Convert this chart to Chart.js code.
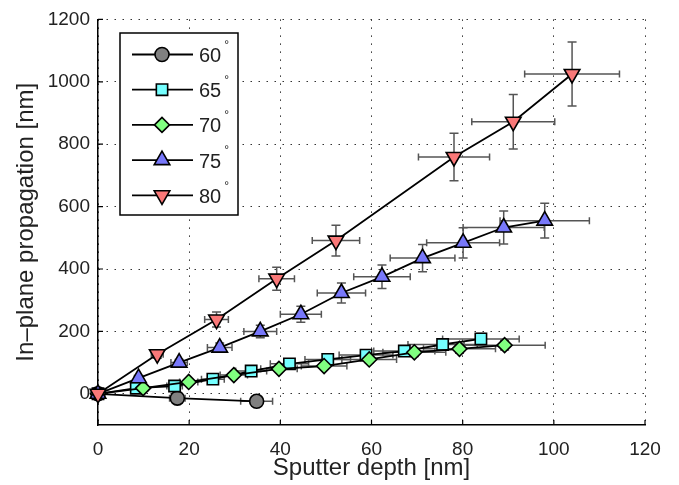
<!DOCTYPE html>
<html>
<head>
<meta charset="utf-8">
<script src="https://cdn.jsdelivr.net/npm/chart.js@4"></script>
<style>
  html, body { margin: 0; padding: 0; background: #fff; }
</style>
</head>
<body>
<canvas id="chartPropagation" width="679" height="485"></canvas>
<script>
// values (nm)
const xTicks = [0, 20, 40, 60, 80, 100, 120];
const yTicks = [0, 200, 400, 600, 800, 1000, 1200];
const labels = ["60", "65", "70", "75", "80"];

const depth60 = [0, 17.4, 34.8];
const prop60 = [0, -14, -24];
const depthErr60 = [0, 1.7, 3.5];
const propErr60 = [0, 1.4, 2.4];

const depth65 = [0, 8.4, 16.8, 25.2, 33.6, 42, 50.4, 58.8, 67.2, 75.6, 84];
const prop65 = [0, 18, 25, 47, 73, 96, 110, 124, 137, 158, 176];
const depthErr65 = [0, 0.8, 1.7, 2.5, 3.4, 4.2, 5.0, 5.9, 6.7, 7.6, 8.4];
const propErr65 = [0, 1.8, 2.5, 4.7, 7.3, 9.6, 11, 12.4, 13.7, 15.8, 17.6];

const depth70 = [0, 9.9, 19.9, 29.8, 39.7, 49.6, 59.5, 69.4, 79.3, 89.2];
const prop70 = [0, 18, 38, 60, 80, 89, 110, 133, 144, 156];
const depthErr70 = [0, 1, 2, 3, 4, 5, 6, 6.9, 7.9, 8.9];
const propErr70 = [0, 1.8, 3.8, 6, 8, 8.9, 11, 13.3, 14.4, 15.6];

const depth75 = [0, 8.9, 17.8, 26.7, 35.6, 44.5, 53.4, 62.3, 71.2, 80.1, 89, 98];
const prop75 = [0, 50, 100, 148, 200, 255, 323, 375, 435, 484, 533, 555];
const depthErr75 = [0, 0.9, 1.8, 2.7, 3.6, 4.5, 5.3, 6.2, 7.1, 8, 8.9, 9.8];
const propErr75 = [0, 5, 10, 15, 20, 25.5, 32, 37.5, 43.5, 48.4, 53, 55.5];

const depth80 = [0, 13, 26, 39.2, 52.2, 78.1, 91.1, 104];
const prop80 = [0, 127, 238, 369, 491, 759, 872, 1025];
const depthErr80 = [0, 1.3, 2.6, 3.9, 5.2, 7.8, 9.1, 10.4];
const propErr80 = [0, 12.7, 23.8, 36.9, 49.1, 75.9, 87.2, 102.5];

const FONT = "'Liberation Sans', Arial, Helvetica, sans-serif";
const TEXT = "#222";

function serie(label, xs, ys, ex, ey, color, style, radius, rotation, order) {
    return {
        label: label,
        data: xs.map((v, i) => ({ x: v, y: ys[i] })),
        xErr: ex,
        yErr: ey,
        showLine: true,
        borderColor: "#000",
        borderWidth: 1.8,
        pointStyle: style,
        pointRadius: radius,
        pointHoverRadius: radius,
        pointRotation: rotation,
        pointBackgroundColor: color,
        pointBorderColor: "#000",
        pointBorderWidth: 1.6,
        clip: false,
        order: order
    };
}

const datasets = [
    serie(labels[0], depth60, prop60, depthErr60, propErr60, "#808080", "circle", 7, 0, 4),
    serie(labels[1], depth65, prop65, depthErr65, propErr65, "#75ffff", "rect", 8, 0, 3),
    serie(labels[2], depth70, prop70, depthErr70, propErr70, "#80ff80", "rectRot", 7.5, 0, 2),
    serie(labels[3], depth75, prop75, depthErr75, propErr75, "#7878fa", "triangle", 9, 0, 1),
    serie(labels[4], depth80, prop80, depthErr80, propErr80, "#fa7878", "triangle", 9, 180, 0)
];

// error bars, drawn under the markers
const errorBars = {
    id: "errorBars",
    beforeDatasetsDraw(chart) {
        const { ctx, scales: { x, y } } = chart;
        ctx.save();
        ctx.strokeStyle = "#555";
        ctx.lineWidth = 1.5;
        chart.data.datasets.forEach(ds => {
            ds.data.forEach((p, i) => {
                const ex = ds.xErr[i], ey = ds.yErr[i];
                if (!ex && !ey) return;
                const px = x.getPixelForValue(p.x), py = y.getPixelForValue(p.y);
                const x0 = x.getPixelForValue(p.x - ex), x1 = x.getPixelForValue(p.x + ex);
                const y0 = y.getPixelForValue(p.y - ey), y1 = y.getPixelForValue(p.y + ey);
                ctx.beginPath();
                ctx.moveTo(x0, py); ctx.lineTo(x1, py);
                ctx.moveTo(x0, py - 3.5); ctx.lineTo(x0, py + 3.5);
                ctx.moveTo(x1, py - 3.5); ctx.lineTo(x1, py + 3.5);
                ctx.moveTo(px, y0); ctx.lineTo(px, y1);
                ctx.moveTo(px - 4.5, y0); ctx.lineTo(px + 4.5, y0);
                ctx.moveTo(px - 4.5, y1); ctx.lineTo(px + 4.5, y1);
                ctx.stroke();
            });
        });
        ctx.restore();
    }
};

// MATLAB style ticks pointing inwards
const insideTicks = {
    id: "insideTicks",
    beforeDatasetsDraw(chart) {
        const { ctx, chartArea: a, scales: { x, y } } = chart;
        ctx.save();
        ctx.strokeStyle = "#000";
        ctx.lineWidth = 1.2;
        ctx.beginPath();
        xTicks.forEach(v => {
            const px = x.getPixelForValue(v);
            ctx.moveTo(px, a.bottom); ctx.lineTo(px, a.bottom - 5);
        });
        yTicks.forEach(v => {
            const py = y.getPixelForValue(v);
            ctx.moveTo(a.left, py); ctx.lineTo(a.left + 5, py);
        });
        ctx.stroke();
        ctx.restore();
    }
};

const legendBox = {
    id: "legendBox",
    afterDraw(chart) {
        const ctx = chart.ctx;
        ctx.save();
        ctx.fillStyle = "#fff";
        ctx.fillRect(120, 33, 118, 182);
        ctx.lineWidth = 1.5;
        ctx.strokeStyle = "#000";
        ctx.strokeRect(120, 33, 118, 182);
        chart.data.datasets.forEach((ds, i) => {
            const ry = 54.5 + i * 35.2;
            ctx.strokeStyle = "#000";
            ctx.lineWidth = 1.8;
            ctx.beginPath();
            ctx.moveTo(132, ry); ctx.lineTo(193, ry);
            ctx.stroke();
            ctx.fillStyle = ds.pointBackgroundColor;
            ctx.lineWidth = 1.6;
            Chart.helpers.drawPoint(ctx, {
                pointStyle: ds.pointStyle,
                radius: ds.pointRadius,
                rotation: ds.pointRotation,
                borderWidth: 1.6
            }, 162, ry);
            ctx.fillStyle = TEXT;
            ctx.font = "20px " + FONT;
            ctx.textBaseline = "middle";
            ctx.textAlign = "left";
            ctx.fillText(ds.label, 199, ry + 2);
            const w = ctx.measureText(ds.label).width;
            ctx.font = "12px " + FONT;
            ctx.fillText("°", 199 + w + 3, ry - 9);
        });
        ctx.restore();
    }
};

new Chart(document.getElementById("chartPropagation"), {
    type: "scatter",
    data: { datasets: datasets },
    plugins: [insideTicks, errorBars, legendBox],
    options: {
        responsive: false,
        animation: false,
        events: [],
        layout: { padding: { top: 15, right: 34, left: 0, bottom: 0 } },
        plugins: { legend: { display: false }, tooltip: { enabled: false } },
        scales: {
            x: {
                type: "linear",
                min: 0,
                max: 120,
                afterBuildTicks: s => { s.ticks = xTicks.map(v => ({ value: v })); },
                afterFit: s => { s.height = 60; },
                grid: { color: "#333", lineWidth: 1, drawTicks: false },
                border: { display: true, color: "#000", width: 1.5, dash: [1.5, 6.5] },
                ticks: { color: TEXT, font: { family: FONT, size: 19 }, padding: 13, callback: v => String(v) },
                title: {
                    display: true,
                    text: "Sputter depth [nm]",
                    color: TEXT,
                    font: { family: FONT, size: 24 },
                    padding: { top: 0, bottom: 2 }
                }
            },
            y: {
                type: "linear",
                min: -100,
                max: 1200,
                afterBuildTicks: s => { s.ticks = yTicks.map(v => ({ value: v })); },
                afterFit: s => { s.width = 98; },
                grid: { color: "#333", lineWidth: 1, drawTicks: false },
                border: { display: true, color: "#000", width: 1.5, dash: [1.5, 6.5] },
                ticks: { color: TEXT, font: { family: FONT, size: 19 }, padding: 8, callback: v => String(v) },
                title: {
                    display: true,
                    text: "In–plane propagation [nm]",
                    color: TEXT,
                    font: { family: FONT, size: 24 },
                    padding: { top: 12, bottom: 0 }
                }
            }
        }
    }
});
</script>
</body>
</html>
